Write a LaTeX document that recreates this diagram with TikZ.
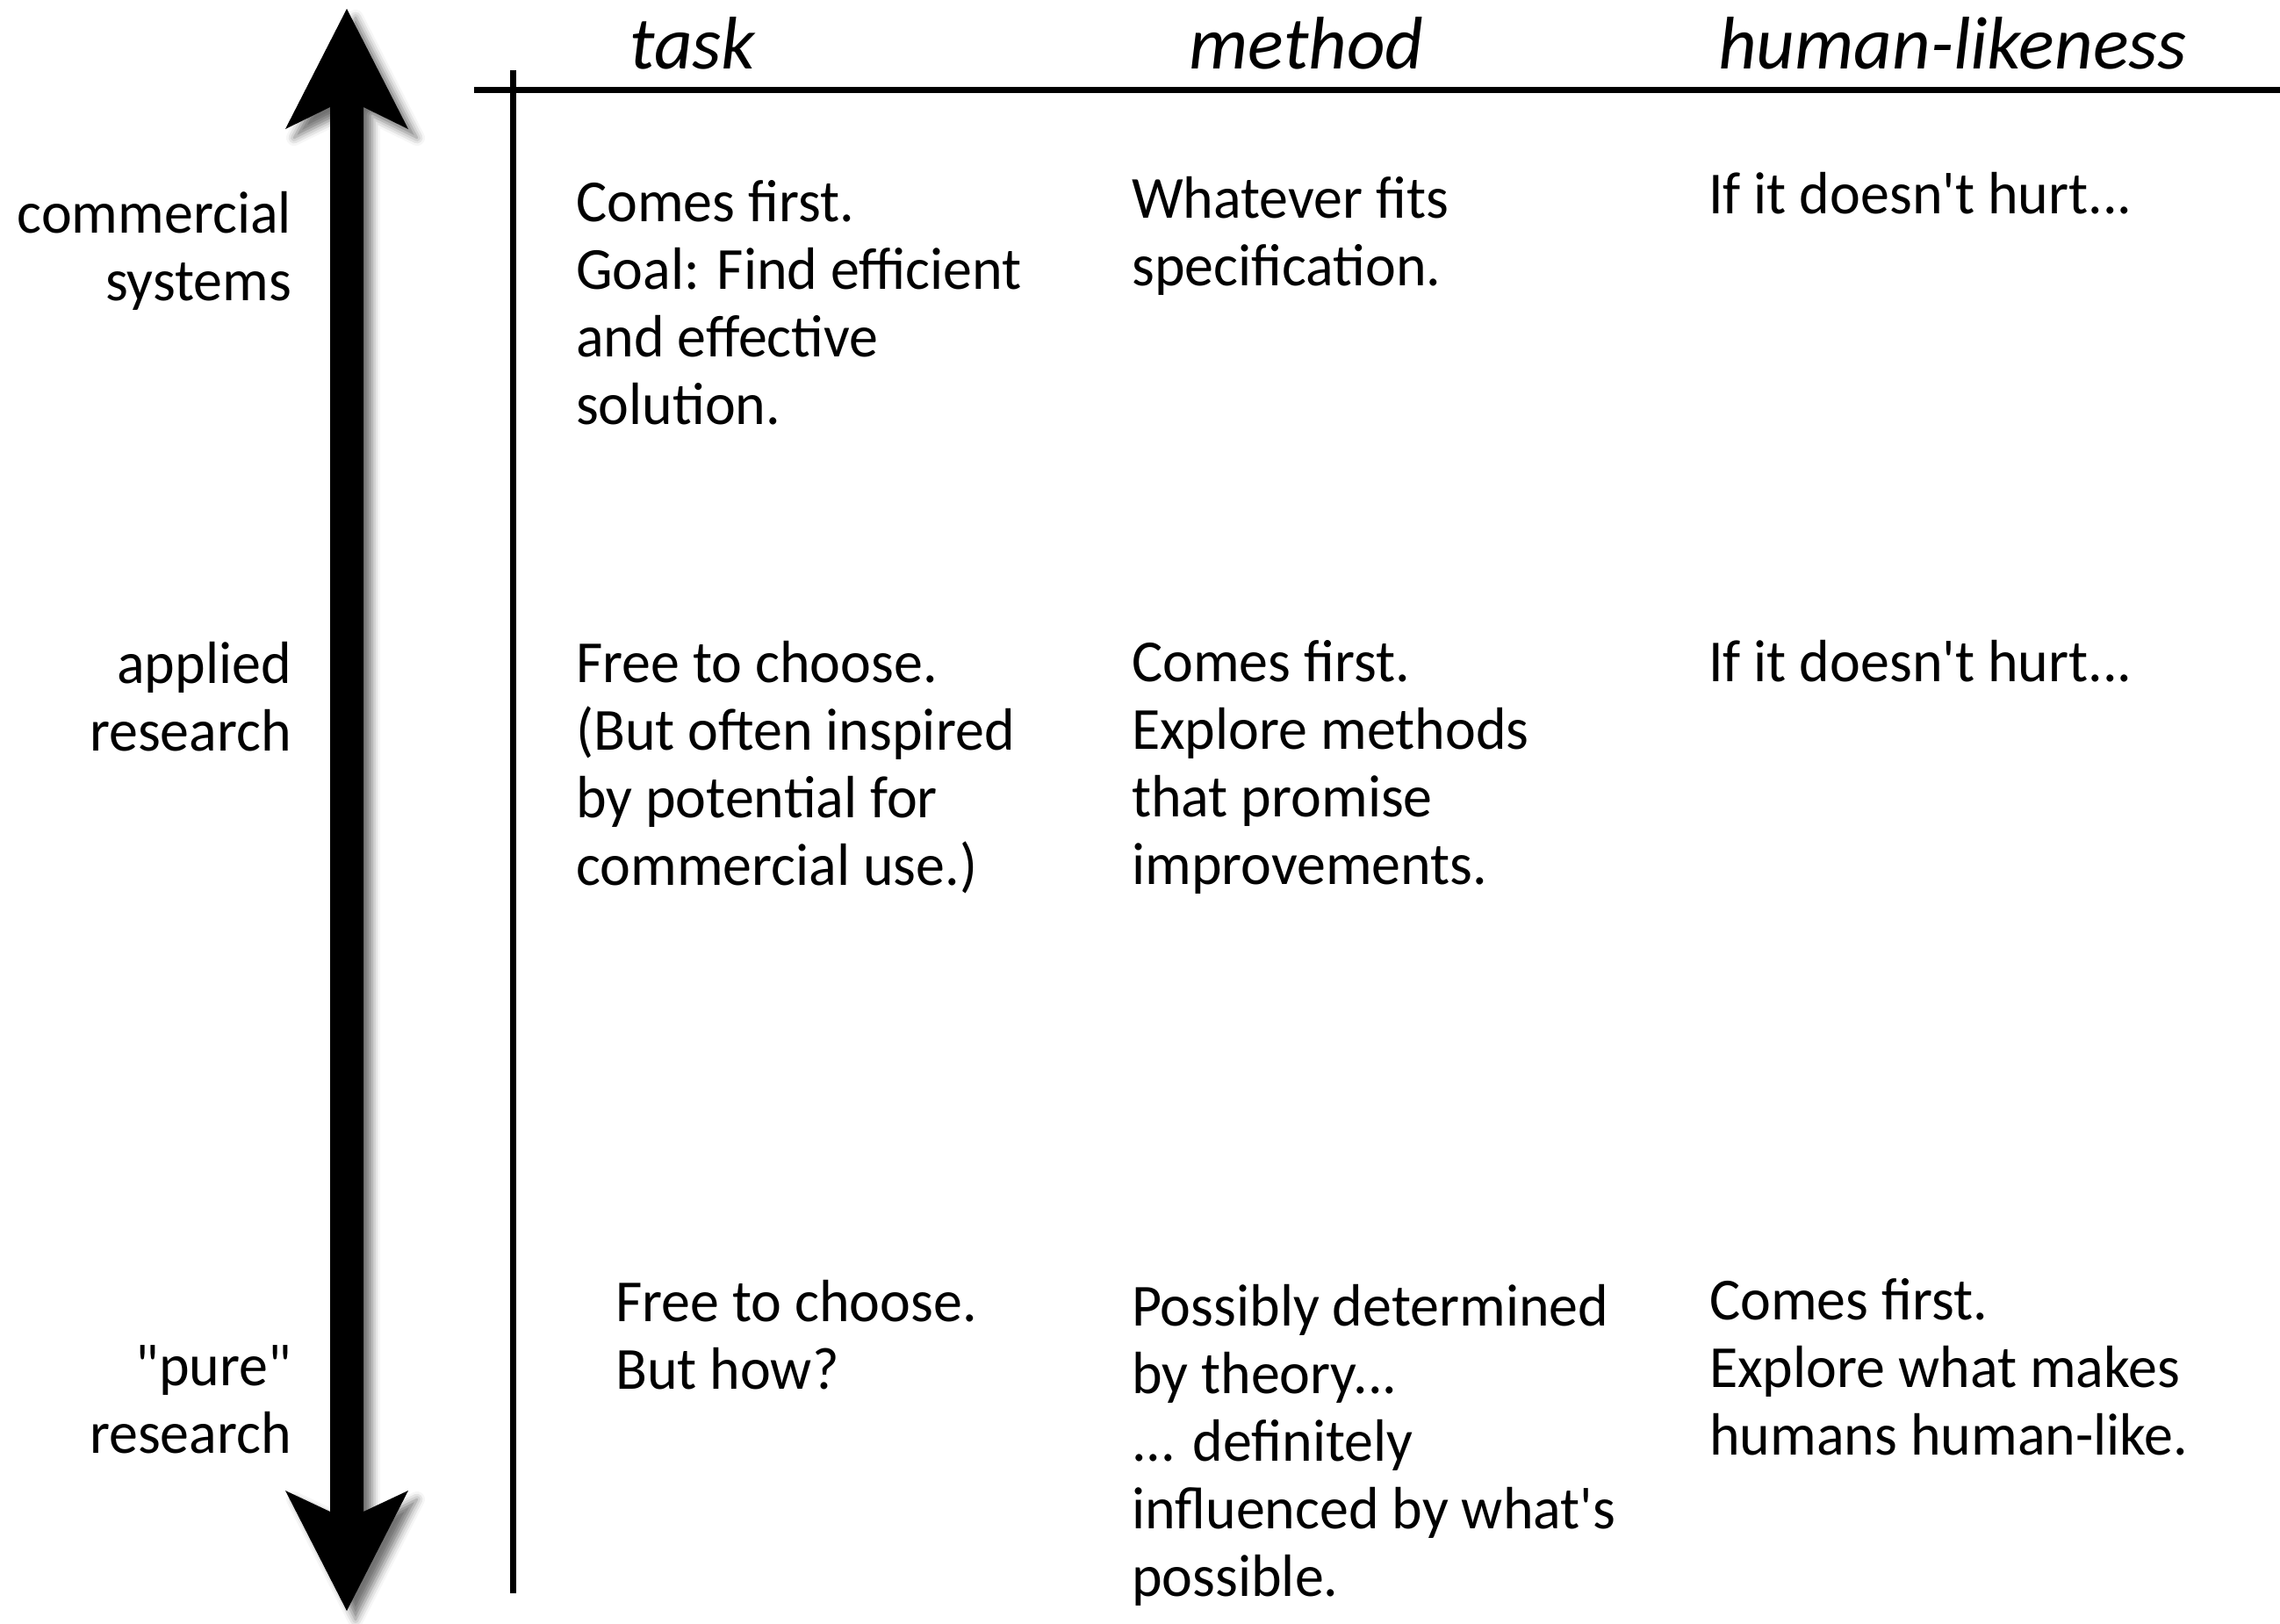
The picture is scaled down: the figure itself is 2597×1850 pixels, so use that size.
\documentclass[tikz,border=0pt]{standalone}
\usepackage{fontspec}
\setmainfont{Carlito}[Ligatures=TeXOff, FakeStretch=0.97]
\newfontfamily\headfont{Carlito}[Ligatures=TeXOff]
\usetikzlibrary{shadows.blur}

% left-aligned and right-aligned multi-line cells whose baseline is the first line
\newcommand{\lcell}[1]{\vtop{\halign{##\hfil\cr#1\crcr}}}
\newcommand{\rcell}[1]{\vtop{\halign{\hfil##\cr#1\crcr}}}

\tikzset{
  body/.style={inner sep=0pt, font=\fontsize{68}{77}\selectfont},
  colhead/.style={inner sep=0pt, anchor=base, font=\headfont\fontsize{85}{95}\selectfont\itshape},
  rowlabel/.style={body, anchor=base east},
  cell/.style={body, anchor=base west},
  rule/.style={line width=7pt},
  axis/.style={fill=black, draw=none,
    blur shadow={shadow xshift=10pt, shadow yshift=-10pt,
                 shadow blur radius=9pt, shadow opacity=55}}
}

\begin{document}
\begin{tikzpicture}[x=1pt, y=-1pt]
\useasboundingbox (0,0) rectangle (2597,1850);

% double-headed vertical axis
\fill[axis] (395,10) -- (465,147) -- (414,122) -- (414,1722) -- (465,1698)
  -- (395,1835) -- (325,1698) -- (376,1722) -- (376,122) -- (325,147) -- cycle;

% table rules
\draw[rule] (584,80) -- (584,1815);
\draw[rule] (540,102) -- (2597,102);

% column headings
\node[colhead] (htask)   at (789,78)  {task};
\node[colhead] (hmethod) at (1488,78) {method};
\node[colhead] (hhuman)  at (2224,78) {human-likeness};

% row labels
\node[rowlabel] (lcom)  at (332,265)  {\rcell{commercial\cr systems}};
\node[rowlabel] (lapp)  at (332,778)  {\rcell{applied\cr research}};
\node[rowlabel] (lpure) at (332,1578) {\rcell{"pure"\cr research}};

% commercial systems
\node[cell] (c11) at (656,252)  {\lcell{Comes first.\cr Goal: Find efficient\cr and effective\cr solution.}};
\node[cell] (c12) at (1289,248) {\lcell{Whatever fits\cr specification.}};
\node[cell] (c13) at (1946,243) {\lcell{If it doesn't hurt...}};

% applied research
\node[cell] (c21) at (656,777)  {\lcell{Free to choose.\cr (But often inspired\cr by potential for\cr commercial use.)}};
\node[cell] (c22) at (1289,776) {\lcell{Comes first.\cr Explore methods\cr that promise\cr improvements.}};
\node[cell] (c23) at (1946,776) {\lcell{If it doesn't hurt...}};

% "pure" research
\node[cell] (c31) at (701,1505)  {\lcell{Free to choose.\cr But how?}};
\node[cell] (c32) at (1289,1510) {\lcell{Possibly determined\cr by theory...\cr ... definitely\cr influenced by what's\cr possible.}};
\node[cell] (c33) at (1947,1503) {\lcell{Comes first.\cr Explore what makes\cr humans human-like.}};
\end{tikzpicture}
\end{document}
